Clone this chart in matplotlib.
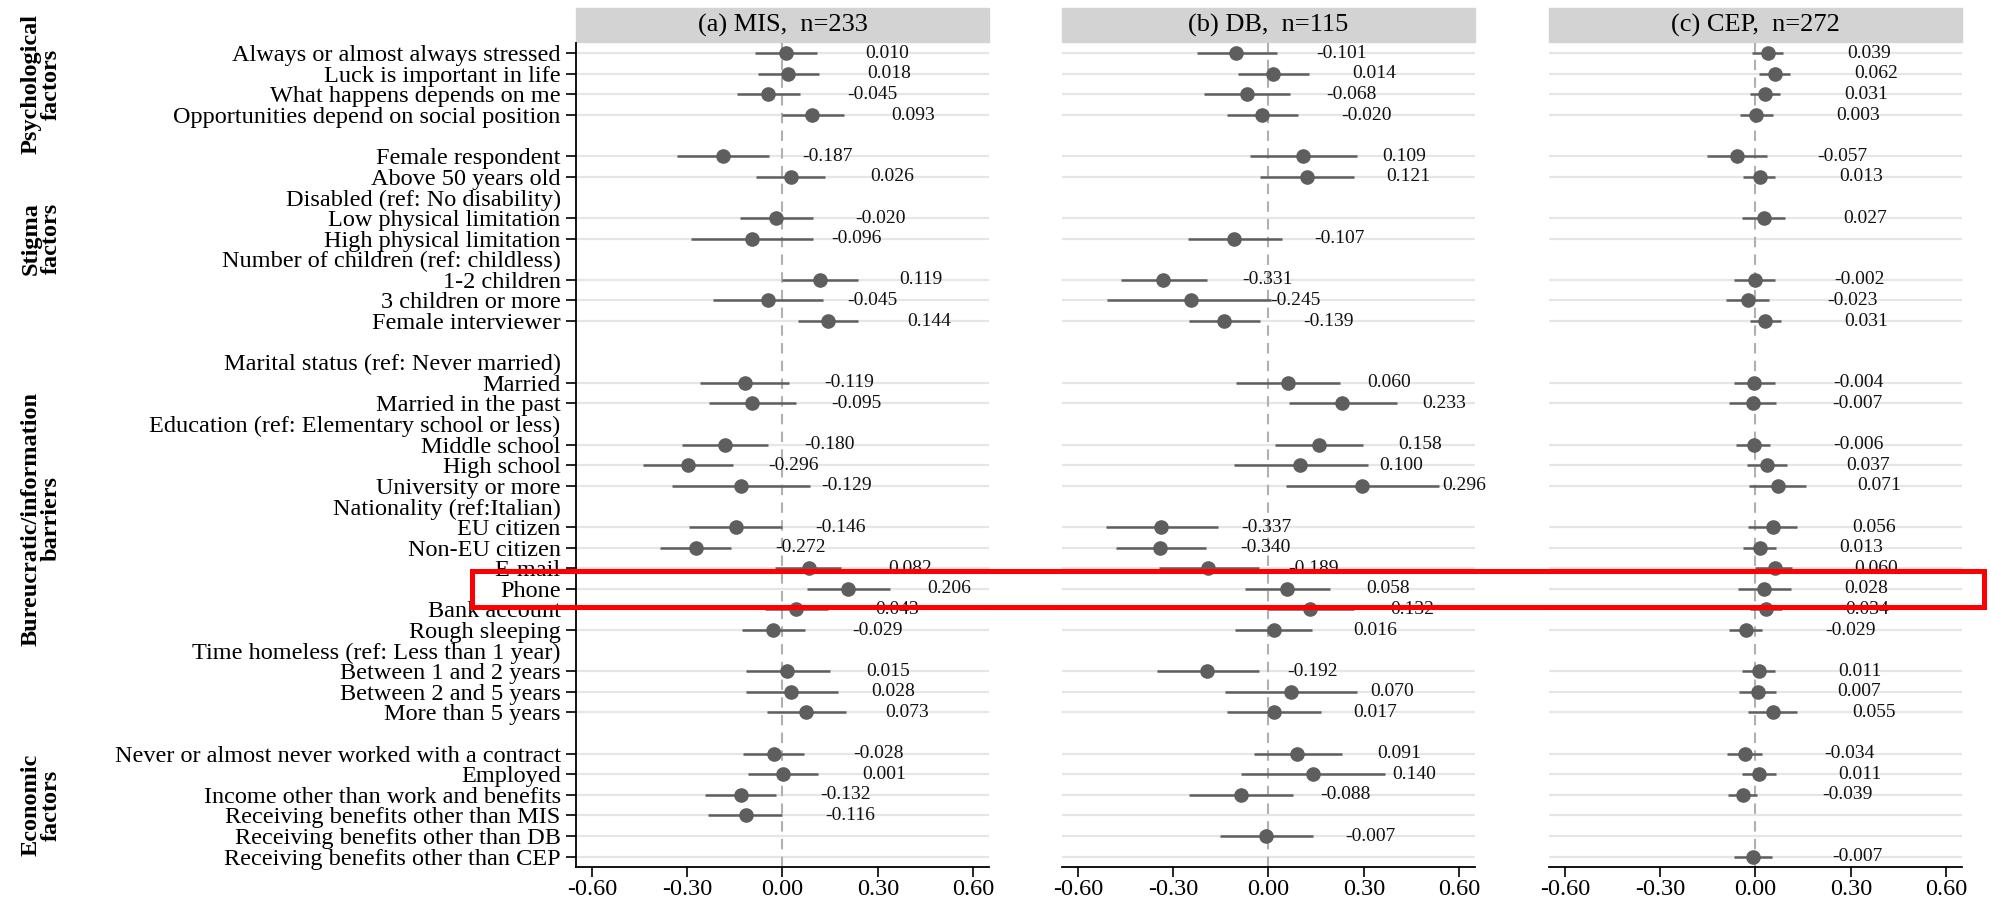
import numpy as np
import matplotlib
matplotlib.use('Agg')
import matplotlib.pyplot as plt
import matplotlib.transforms as mtransforms
from matplotlib.patches import Rectangle
from matplotlib.ticker import FormatStrFormatter

plt.rcParams['font.family'] = ['Liberation Serif', 'DejaVu Serif']
plt.rcParams['axes.unicode_minus'] = False

# rows of the plot, top to bottom ('' = blank spacer row)
row_labels = [
    'Always or almost always stressed', 'Luck is important in life',
    'What happens depends on me', 'Opportunities depend on social position', '',
    'Female respondent', 'Above 50 years old', 'Disabled (ref: No disability)',
    'Low physical limitation', 'High physical limitation',
    'Number of children (ref: childless)', '1-2 children', '3 children or more',
    'Female interviewer', '',
    'Marital status (ref: Never married)', 'Married', 'Married in the past',
    'Education (ref: Elementary school or less)', 'Middle school', 'High school',
    'University or more', 'Nationality (ref:Italian)', 'EU citizen', 'Non-EU citizen',
    'E-mail', 'Phone', 'Bank account', 'Rough sleeping',
    'Time homeless (ref: Less than 1 year)', 'Between 1 and 2 years',
    'Between 2 and 5 years', 'More than 5 years', '',
    'Never or almost never worked with a contract', 'Employed',
    'Income other than work and benefits', 'Receiving benefits other than MIS',
    'Receiving benefits other than DB', 'Receiving benefits other than CEP',
]
header_labels = [
    'Disabled (ref: No disability)', 'Number of children (ref: childless)',
    'Marital status (ref: Never married)', 'Education (ref: Elementary school or less)',
    'Nationality (ref:Italian)', 'Time homeless (ref: Less than 1 year)',
]
group_names = ['Psychological\nfactors', 'Stigma\nfactors',
               'Bureucratic/information\nbarriers', 'Economic\nfactors']
group_centers = [1.5, 9.0, 22.6, 36.5]

panel_titles = ['(a) MIS,  n=233', '(b) DB,  n=115', '(c) CEP,  n=272']

nan = np.nan
# coefficients and 95% CI, one value per variable row
mis_coef = [0.010, 0.018, -0.045, 0.093, -0.187, 0.026, -0.020, -0.096, 0.119, -0.045,
            0.144, -0.119, -0.095, -0.180, -0.296, -0.129, -0.146, -0.272, 0.082, 0.206,
            0.043, -0.029, 0.015, 0.028, 0.073, -0.028, 0.001, -0.132, -0.116, nan, nan]
mis_lo = [-0.087, -0.078, -0.142, 0.000, -0.333, -0.082, -0.134, -0.289, 0.000, -0.219,
          0.048, -0.259, -0.231, -0.315, -0.440, -0.347, -0.293, -0.385, -0.024, 0.076,
          -0.056, -0.128, -0.116, -0.116, -0.050, -0.124, -0.108, -0.243, -0.233, nan, nan]
mis_hi = [0.108, 0.116, 0.054, 0.193, -0.042, 0.134, 0.096, 0.096, 0.237, 0.128,
          0.239, 0.020, 0.042, -0.044, -0.155, 0.088, 0.000, -0.161, 0.185, 0.339,
          0.144, 0.072, 0.149, 0.175, 0.199, 0.068, 0.112, -0.020, 0.000, nan, nan]

db_coef = [-0.101, 0.014, -0.068, -0.020, 0.109, 0.121, nan, -0.107, -0.331, -0.245,
           -0.139, 0.060, 0.233, 0.158, 0.100, 0.296, -0.337, -0.340, -0.189, 0.058,
           0.132, 0.016, -0.192, 0.070, 0.017, 0.091, 0.140, -0.088, nan, -0.007, nan]
db_lo = [-0.225, -0.097, -0.203, -0.132, -0.058, -0.026, nan, -0.253, -0.464, -0.509,
         -0.249, -0.101, 0.064, 0.019, -0.110, 0.054, -0.512, -0.481, -0.344, -0.074,
         0.000, -0.105, -0.351, -0.137, -0.130, -0.047, -0.085, -0.250, nan, -0.152, nan]
db_hi = [0.028, 0.129, 0.069, 0.094, 0.280, 0.270, nan, 0.042, -0.195, 0.008,
         -0.026, 0.225, 0.406, 0.299, 0.312, 0.537, -0.159, -0.197, -0.029, 0.194,
         0.270, 0.138, -0.030, 0.279, 0.165, 0.231, 0.366, 0.076, nan, 0.141, nan]

cep_coef = [0.039, 0.062, 0.031, 0.003, -0.057, 0.013, 0.027, nan, -0.002, -0.023,
            0.031, -0.004, -0.007, -0.006, 0.037, 0.071, 0.056, 0.013, 0.060, 0.028,
            0.034, -0.029, 0.011, 0.007, 0.055, -0.034, 0.011, -0.039, nan, nan, -0.007]
cep_lo = [-0.010, 0.010, -0.016, -0.049, -0.152, -0.040, -0.042, nan, -0.068, -0.092,
          -0.018, -0.069, -0.082, -0.061, -0.026, -0.019, -0.023, -0.040, 0.000, -0.056,
          -0.018, -0.082, -0.042, -0.053, -0.023, -0.089, -0.043, -0.086, nan, nan, -0.067]
cep_hi = [0.087, 0.110, 0.078, 0.055, 0.037, 0.063, 0.094, nan, 0.062, 0.044,
          0.080, 0.060, 0.066, 0.046, 0.099, 0.160, 0.132, 0.064, 0.116, 0.111,
          0.085, 0.021, 0.062, 0.066, 0.132, 0.020, 0.066, 0.006, nan, nan, 0.052]

panels = [(mis_coef, mis_lo, mis_hi), (db_coef, db_lo, db_hi), (cep_coef, cep_lo, cep_hi)]

var_rows = np.array([i for i, lab in enumerate(row_labels) if lab and lab not in header_labels])
n_rows = len(row_labels)

fig = plt.figure(figsize=(19.91, 9.08), dpi=100)
lefts = [0.2893, 0.5334, 0.778]
axes = []
dot_col = '#5e5e5e'

for k, (coef, lo, hi) in enumerate(panels):
    ax = fig.add_axes([lefts[k], 0.0452, 0.2074, 0.9075])
    axes.append(ax)
    coef = np.array(coef); lo = np.array(lo); hi = np.array(hi)
    ok = ~np.isnan(coef)

    ax.hlines(var_rows, -0.65, 0.65, color='#e6e6e6', lw=1.6, zorder=0)
    ax.axvline(0, color='#b0b0b0', lw=1.5, ls=(0, (5, 3.5)), zorder=1)
    ax.hlines(var_rows[ok], lo[ok], hi[ok], color=dot_col, lw=1.8, zorder=2)
    ax.plot(coef[ok], var_rows[ok], 'o', ms=9.5, color=dot_col, zorder=3)
    for r, c in zip(var_rows[ok], coef[ok]):
        ax.text(c + 0.25, r, '%.3f' % c, ha='left', va='center', fontsize=14,
                color='#111111', zorder=4)

    ax.set_xlim(-0.65, 0.65)
    ax.set_ylim(n_rows - 0.5, -0.5)
    ax.set_xticks([-0.6, -0.3, 0.0, 0.3, 0.6])
    ax.xaxis.set_major_formatter(FormatStrFormatter('%.2f'))
    ax.tick_params(axis='x', labelsize=17.5, length=7, width=1.2, pad=2)
    for s in ['top', 'right']:
        ax.spines[s].set_visible(False)
    ax.spines['bottom'].set_linewidth(1.3)

    if k == 0:
        ax.set_yticks(range(n_rows))
        ax.set_yticklabels(row_labels, fontsize=17.5)
        ax.tick_params(axis='y', length=7, width=1.2, pad=4)
        ax.spines['left'].set_linewidth(1.3)
        for i, t in enumerate(ax.yaxis.get_major_ticks()):
            if (not row_labels[i]) or row_labels[i] in header_labels:
                t.tick1line.set_visible(False)
    else:
        ax.set_yticks([])
        ax.spines['left'].set_visible(False)

    # strip header
    ax.add_patch(Rectangle((0, 1.0012), 1, 0.0413, transform=ax.transAxes,
                           clip_on=False, color='#d3d3d3', zorder=0))
    ax.text(0.5, 1.0218, panel_titles[k], transform=ax.transAxes, ha='center',
            va='center', fontsize=19)

# group labels on the far left
trans = mtransforms.blended_transform_factory(fig.transFigure, axes[0].transData)
for name, yc in zip(group_names, group_centers):
    fig.text(0.0206, yc, name, transform=trans, rotation=90, ha='center', va='center',
             fontsize=17.5, fontweight='bold', linespacing=0.95, multialignment='center')

# red highlight box around the Phone row
phone_row = row_labels.index('Phone')
fig.add_artist(Rectangle((0.2373, phone_row - 0.88), 0.7594, 1.76, transform=trans,
                         fill=False, edgecolor='#ff0000', lw=3.6, zorder=10))

fig.savefig('out.png', dpi=100)
